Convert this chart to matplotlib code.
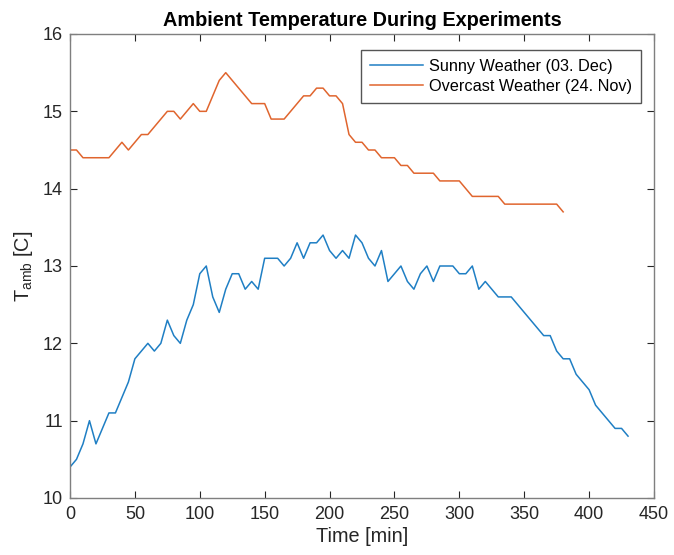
import matplotlib
matplotlib.use("Agg")
import matplotlib.pyplot as plt

plt.rcParams['font.family'] = ['Liberation Sans', 'DejaVu Sans']
plt.rcParams['mathtext.fontset'] = 'custom'
plt.rcParams['mathtext.rm'] = 'Liberation Sans'
plt.rcParams['mathtext.it'] = 'Liberation Sans:italic'

# data (sampled every 5 minutes)
sunny_time = list(range(0, 435, 5))
sunny_temp = [10.4, 10.5, 10.7, 11.0, 10.7, 10.9, 11.1, 11.1, 11.3, 11.5,
              11.8, 11.9, 12.0, 11.9, 12.0, 12.3, 12.1, 12.0, 12.3, 12.5,
              12.9, 13.0, 12.6, 12.4, 12.7, 12.9, 12.9, 12.7, 12.8, 12.7,
              13.1, 13.1, 13.1, 13.0, 13.1, 13.3, 13.1, 13.3, 13.3, 13.4,
              13.2, 13.1, 13.2, 13.1, 13.4, 13.3, 13.1, 13.0, 13.2, 12.8,
              12.9, 13.0, 12.8, 12.7, 12.9, 13.0, 12.8, 13.0, 13.0, 13.0,
              12.9, 12.9, 13.0, 12.7, 12.8, 12.7, 12.6, 12.6, 12.6, 12.5,
              12.4, 12.3, 12.2, 12.1, 12.1, 11.9, 11.8, 11.8, 11.6, 11.5,
              11.4, 11.2, 11.1, 11.0, 10.9, 10.9, 10.8]

overcast_time = list(range(0, 385, 5))
overcast_temp = [14.5, 14.5, 14.4, 14.4, 14.4, 14.4, 14.4, 14.5, 14.6, 14.5,
                 14.6, 14.7, 14.7, 14.8, 14.9, 15.0, 15.0, 14.9, 15.0, 15.1,
                 15.0, 15.0, 15.2, 15.4, 15.5, 15.4, 15.3, 15.2, 15.1, 15.1,
                 15.1, 14.9, 14.9, 14.9, 15.0, 15.1, 15.2, 15.2, 15.3, 15.3,
                 15.2, 15.2, 15.1, 14.7, 14.6, 14.6, 14.5, 14.5, 14.4, 14.4,
                 14.4, 14.3, 14.3, 14.2, 14.2, 14.2, 14.2, 14.1, 14.1, 14.1,
                 14.1, 14.0, 13.9, 13.9, 13.9, 13.9, 13.9, 13.8, 13.8, 13.8,
                 13.8, 13.8, 13.8, 13.8, 13.8, 13.8, 13.7]

xticks = list(range(0, 451, 50))
yticks = [10, 11, 12, 13, 14, 15, 16]

fig = plt.figure(figsize=(6.74, 5.55), dpi=100)
ax = fig.add_axes([70 / 674, 1 - 498 / 555, 584 / 674, 464 / 555])

ax.plot(sunny_time, sunny_temp, color='#1f7fc4', lw=1.1, label='Sunny Weather (03. Dec)')
ax.plot(overcast_time, overcast_temp, color='#e0652e', lw=1.1, label='Overcast Weather (24. Nov)')

ax.set_xlim(0, 450)
ax.set_ylim(10, 16)
ax.set_xticks(xticks)
ax.set_yticks(yticks)

dark = '#262626'
for s in ax.spines.values():
    s.set_color('#7f7f7f')
    s.set_linewidth(1.0)
ax.tick_params(direction='in', top=True, right=True, length=5, width=0.8,
               color=dark, labelcolor=dark, labelsize=13)
ax.tick_params(axis='x', pad=6)
ax.tick_params(axis='y', pad=5)

ax.set_xlabel('Time [min]', fontsize=14.3, color=dark, labelpad=3)
ax.set_ylabel(r'T$_{\rm amb}$ [C]', fontsize=14.3, color=dark, labelpad=6)
ax.set_title('Ambient Temperature During Experiments', fontsize=14.3,
             fontweight='bold', color='black', pad=6)

leg = ax.legend(loc='upper right', bbox_to_anchor=((641 - 70) / 584, (498 - 50) / 464),
                borderaxespad=0, fontsize=11.7, fancybox=False, framealpha=1,
                edgecolor='#555555', handlelength=3.3, handletextpad=0.35,
                labelspacing=0.3, borderpad=0.55)
leg.get_frame().set_linewidth(1.0)

fig.savefig('out.png', dpi=100)
